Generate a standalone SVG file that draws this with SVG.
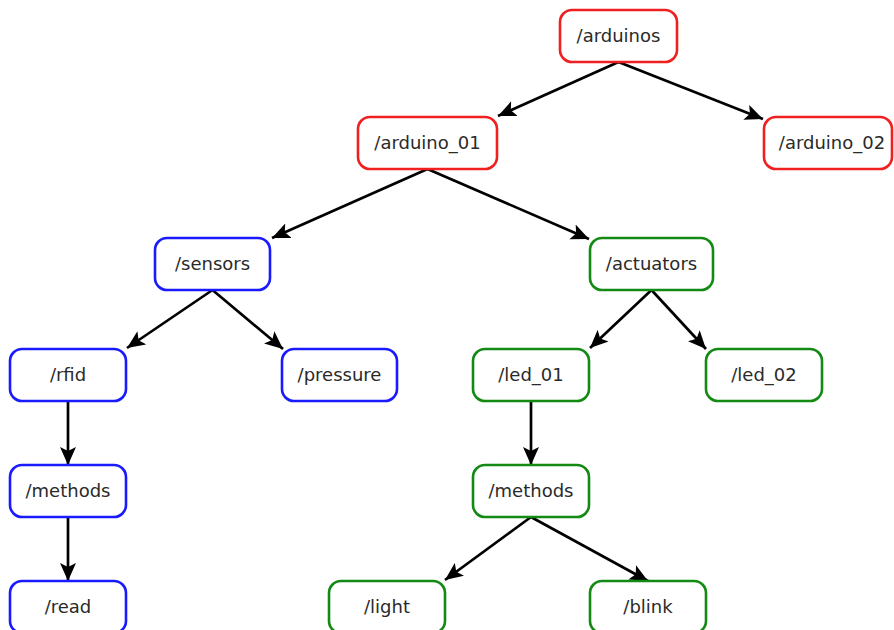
<svg xmlns="http://www.w3.org/2000/svg" width="894" height="630" viewBox="0 0 894 630">
<defs>
<style>
.n rect{fill:#fff;stroke-width:2.6}
.r rect{stroke:#f02020}
.b rect{stroke:#1a1aff}
.g rect{stroke:#138a13}
.n text{font-family:"DejaVu Sans",sans-serif;font-size:18px;fill:#2a2a2a;text-anchor:middle}
.e line{stroke:#000;stroke-width:2.7;marker-end:url(#ah)}
</style>
<marker id="ah" markerUnits="userSpaceOnUse" markerWidth="19" markerHeight="17" refX="18" refY="8" orient="auto" viewBox="0 0 19 16">
<path d="M0,0 L18,8 L0,16 L4,8 z" fill="#000"/>
</marker>
</defs>
<g id="edges" class="e">
<line x1="618.5" y1="62" x2="498" y2="116"/>
<line x1="618.5" y1="62" x2="763" y2="119"/>
<line x1="427.5" y1="169" x2="272" y2="238"/>
<line x1="427.5" y1="169" x2="589" y2="239"/>
<line x1="212.5" y1="290" x2="127" y2="348"/>
<line x1="212.5" y1="290" x2="283" y2="349"/>
<line x1="651.5" y1="290" x2="590" y2="348"/>
<line x1="651.5" y1="290" x2="706" y2="349"/>
<line x1="68" y1="401" x2="68" y2="465"/>
<line x1="68" y1="517" x2="68" y2="581"/>
<line x1="531" y1="401" x2="531" y2="465"/>
<line x1="531" y1="517" x2="445" y2="580"/>
<line x1="531" y1="517" x2="648" y2="581"/>
</g>
<g id="arduinos" class="n r"><rect x="560" y="10" width="117" height="52" rx="12"/><text x="618.5" y="42">/arduinos</text></g>
<g id="arduino_01" class="n r"><rect x="358" y="117" width="139" height="52" rx="12"/><text x="427.5" y="149">/arduino_01</text></g>
<g id="arduino_02" class="n r"><rect x="764" y="117" width="128" height="52" rx="12"/><text x="832" y="149">/arduino_02</text></g>
<g id="sensors" class="n b"><rect x="155" y="238" width="115" height="52" rx="12"/><text x="212.5" y="270">/sensors</text></g>
<g id="actuators" class="n g"><rect x="590" y="238" width="123" height="52" rx="12"/><text x="651.5" y="270">/actuators</text></g>
<g id="rfid" class="n b"><rect x="10" y="349" width="116" height="52" rx="12"/><text x="68" y="381">/rfid</text></g>
<g id="pressure" class="n b"><rect x="282" y="349" width="115" height="52" rx="12"/><text x="339.5" y="381">/pressure</text></g>
<g id="led_01" class="n g"><rect x="473" y="349" width="116" height="52" rx="12"/><text x="531" y="381">/led_01</text></g>
<g id="led_02" class="n g"><rect x="706" y="349" width="116" height="52" rx="12"/><text x="764" y="381">/led_02</text></g>
<g id="methods_rfid" class="n b"><rect x="10" y="465" width="116" height="52" rx="12"/><text x="68" y="497">/methods</text></g>
<g id="methods_led" class="n g"><rect x="473" y="465" width="116" height="52" rx="12"/><text x="531" y="497">/methods</text></g>
<g id="read" class="n b"><rect x="10" y="581" width="116" height="52" rx="12"/><text x="68" y="613">/read</text></g>
<g id="light" class="n g"><rect x="329" y="581" width="116" height="52" rx="12"/><text x="387" y="613">/light</text></g>
<g id="blink" class="n g"><rect x="590" y="581" width="116" height="52" rx="12"/><text x="648" y="613">/blink</text></g>
</svg>
